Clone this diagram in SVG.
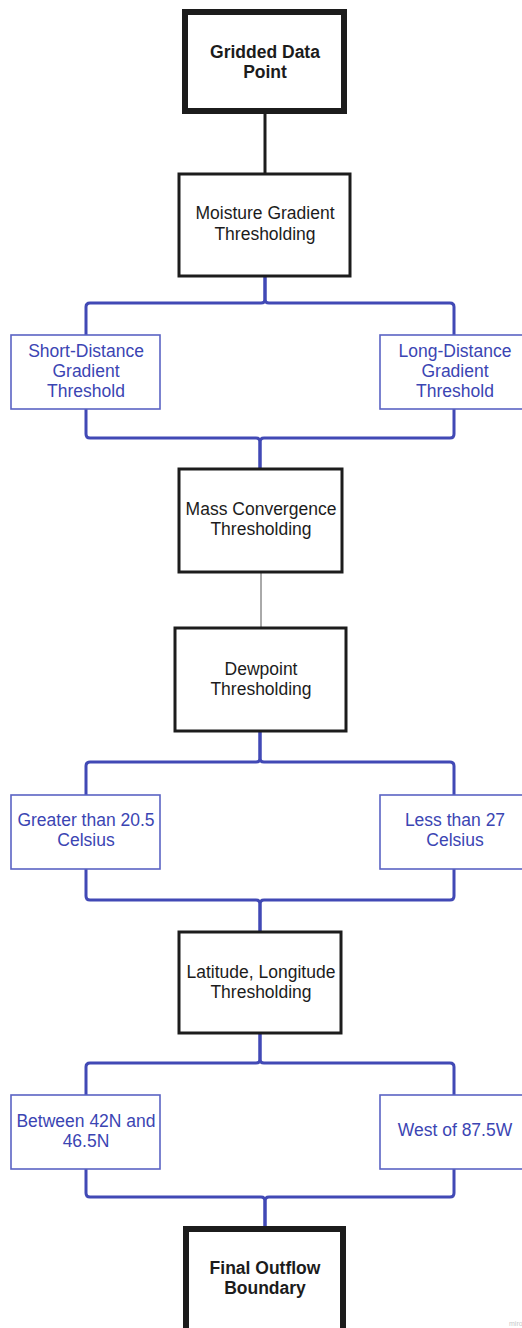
<svg xmlns="http://www.w3.org/2000/svg" width="522" height="1328" viewBox="0 0 522 1328">
<style>
.bg{fill:#ffffff}
.thick{fill:#ffffff;stroke:#1c1c1c;stroke-width:6}
.main{fill:#ffffff;stroke:#1c1c1c;stroke-width:3}
.sub{fill:#ffffff;stroke:#5a63c4;stroke-width:1.6}
.t{font-family:"Liberation Sans",Arial,sans-serif;font-size:17.5px;text-anchor:middle;fill:#1c1c1c}
.b{font-weight:bold}
.bl{fill:#3b45b3}
.cb{fill:none;stroke:#4149b5;stroke-width:3;stroke-linejoin:round}
.ck{fill:none;stroke:#1c1c1c;stroke-width:3}
.cg{fill:none;stroke:#555555;stroke-width:1}
</style>
<rect class="bg" x="0" y="0" width="522" height="1328"/>
<g id="connectors">
<path class="ck" d="M265,114 V174"/>
<path class="cb" d="M265,277 V299 Q265,303 261,303 H90 Q86,303 86,307 V335"/>
<path class="cb" d="M265,277 V299 Q265,303 269,303 H450 Q454,303 454,307 V335"/>
<path class="cb" d="M86,409 V434 Q86,438 90,438 H256 Q260,438 260,442 V469"/>
<path class="cb" d="M454,409 V434 Q454,438 450,438 H264 Q260,438 260,442 V469"/>
<path class="cg" d="M261,572 V628"/>
<path class="cb" d="M260,731 V758 Q260,762 256,762 H90 Q86,762 86,766 V795"/>
<path class="cb" d="M260,731 V758 Q260,762 264,762 H450 Q454,762 454,766 V795"/>
<path class="cb" d="M86,869 V896 Q86,900 90,900 H256 Q260,900 260,904 V932"/>
<path class="cb" d="M454,869 V896 Q454,900 450,900 H264 Q260,900 260,904 V932"/>
<path class="cb" d="M260,1033 V1059 Q260,1063 256,1063 H90 Q86,1063 86,1067 V1095"/>
<path class="cb" d="M260,1033 V1059 Q260,1063 264,1063 H450 Q454,1063 454,1067 V1095"/>
<path class="cb" d="M86,1169 V1193 Q86,1197 90,1197 H261 Q265,1197 265,1201 V1227"/>
<path class="cb" d="M454,1169 V1193 Q454,1197 450,1197 H269 Q265,1197 265,1201 V1227"/>
</g>
<g id="gridded">
<rect class="thick" x="185" y="12" width="159" height="99"/>
<text class="t b" x="265" y="58">Gridded Data</text>
<text class="t b" x="265" y="78">Point</text>
</g>
<g id="moisture">
<rect class="main" x="179" y="174" width="171" height="102"/>
<text class="t" x="265" y="219">Moisture Gradient</text>
<text class="t" x="265" y="240">Thresholding</text>
</g>
<g id="short">
<rect class="sub" x="11" y="335" width="149" height="74"/>
<text class="bl t" x="86" y="357">Short-Distance</text>
<text class="bl t" x="86" y="377">Gradient</text>
<text class="bl t" x="86" y="397">Threshold</text>
</g>
<g id="long">
<rect class="sub" x="380" y="335" width="149" height="74"/>
<text class="bl t" x="455" y="357">Long-Distance</text>
<text class="bl t" x="455" y="377">Gradient</text>
<text class="bl t" x="455" y="397">Threshold</text>
</g>
<g id="mass">
<rect class="main" x="179" y="469" width="163" height="103"/>
<text class="t" x="261" y="515">Mass Convergence</text>
<text class="t" x="261" y="535">Thresholding</text>
</g>
<g id="dewpoint">
<rect class="main" x="175" y="628" width="171" height="103"/>
<text class="t" x="261" y="675">Dewpoint</text>
<text class="t" x="261" y="695">Thresholding</text>
</g>
<g id="greater">
<rect class="sub" x="11" y="795" width="149" height="74"/>
<text class="bl t" x="86" y="826">Greater than 20.5</text>
<text class="bl t" x="86" y="846">Celsius</text>
</g>
<g id="less">
<rect class="sub" x="380" y="795" width="149" height="74"/>
<text class="bl t" x="455" y="826">Less than 27</text>
<text class="bl t" x="455" y="846">Celsius</text>
</g>
<g id="latlon">
<rect class="main" x="179" y="932" width="162" height="101"/>
<text class="t" x="261" y="978">Latitude, Longitude</text>
<text class="t" x="261" y="998">Thresholding</text>
</g>
<g id="between">
<rect class="sub" x="11" y="1095" width="149" height="74"/>
<text class="bl t" x="86" y="1127">Between 42N and</text>
<text class="bl t" x="86" y="1147">46.5N</text>
</g>
<g id="west">
<rect class="sub" x="380" y="1095" width="149" height="74"/>
<text class="bl t" x="455" y="1136">West of 87.5W</text>
</g>
<g id="final">
<rect class="thick" x="186" y="1229" width="157" height="104"/>
<text class="t b" x="265" y="1274">Final Outflow</text>
<text class="t b" x="265" y="1294">Boundary</text>
</g>
<text x="509" y="1326" font-family="Liberation Sans, Arial, sans-serif" font-size="7" fill="#c8c8c8">miro</text>
</svg>
